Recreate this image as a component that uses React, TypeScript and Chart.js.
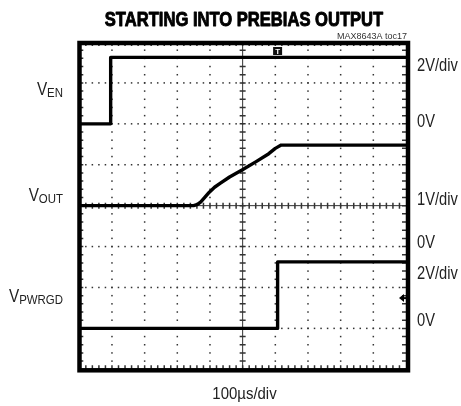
import React, { useEffect, useRef } from "react";
import { Chart, registerables } from "chart.js";

Chart.register(...registerables);

// ---- Text ----
const TITLE = "STARTING INTO PREBIAS OUTPUT";
const NOTE = "MAX8643A toc17";
const X_LABEL = "100µs/div";

// ---- Time axis (µs), 10 divisions of 100µs ----
const timeMinUs = 0;
const timeMaxUs = 1000;
const divisionsX = 10;
const divisionsY = 8;

// ---- Traces (time µs, volts) ----
const venTimeUs = [0, 96, 96, 1000];
const venVolts = [0, 0, 3.25, 3.25];

const voutTimeUs = [0, 350, 362, 372, 384, 398, 414, 432, 460, 498, 540, 580, 600, 618, 1000];
const voutVolts = [1.0, 1.0, 1.03, 1.09, 1.2, 1.33, 1.45, 1.55, 1.7, 1.87, 2.07, 2.27, 2.4, 2.48, 2.48];

const pgTimeUs = [0, 607, 607, 1000];
const pgVolts = [0, 0, 3.25, 3.25];

// ---- Channels ----
const channelSubs = ["EN", "OUT", "PWRGD"];
const channelOffsetsDiv = [6, 3, 1];
const channelVoltsPerDiv = [2, 1, 2];
const channelScaleLabels = ["2V/div", "1V/div", "2V/div"];
const zeroLabel = "0V";

const triggerTimeUs = 607;
const triggerLevelV = 1.48; // on PWRGD channel

function toPoints(t: number[], v: number[], ch: number) {
  return t.map((x, i) => ({ x, y: channelOffsetsDiv[ch] + v[i] / channelVoltsPerDiv[ch] }));
}

function condensedText(
  ctx: CanvasRenderingContext2D,
  text: string,
  x: number,
  y: number,
  font: string,
  sx: number,
  align: CanvasTextAlign,
  color: string,
  stroke = 0
) {
  ctx.save();
  ctx.translate(x, y);
  ctx.scale(sx, 1);
  ctx.font = font;
  ctx.textAlign = align;
  ctx.textBaseline = "alphabetic";
  ctx.fillStyle = color;
  ctx.fillText(text, 0, 0);
  if (stroke > 0) {
    ctx.strokeStyle = color;
    ctx.lineWidth = stroke;
    ctx.lineJoin = "round";
    ctx.strokeText(text, 0, 0);
  }
  ctx.restore();
}

const FONT = '"Liberation Sans", Arial, Helvetica, sans-serif';

const scopePlugin = {
  id: "scope",
  beforeDatasetsDraw(chart: any) {
    const ctx: CanvasRenderingContext2D = chart.ctx;
    const xs = chart.scales.x;
    const ys = chart.scales.y;
    const stepX = (timeMaxUs - timeMinUs) / divisionsX;
    ctx.save();
    ctx.fillStyle = "#333";
    // dotted grid
    for (let i = 1; i < divisionsX; i++) {
      if (i === divisionsX / 2) continue;
      const px = xs.getPixelForValue(timeMinUs + i * stepX);
      for (let j = 1; j < divisionsY * 5; j++) {
        const py = ys.getPixelForValue(j / 5);
        ctx.fillRect(px - 0.75, py - 0.75, 1.5, 1.5);
      }
    }
    for (let j = 1; j < divisionsY; j++) {
      if (j === divisionsY / 2) continue;
      const py = ys.getPixelForValue(j);
      for (let i = 1; i < divisionsX * 5; i++) {
        const px = xs.getPixelForValue(timeMinUs + (i * stepX) / 5);
        ctx.fillRect(px - 0.75, py - 0.75, 1.5, 1.5);
      }
    }
    // center lines with minor ticks
    const cx = xs.getPixelForValue(timeMinUs + (divisionsX / 2) * stepX);
    const cy = ys.getPixelForValue(divisionsY / 2);
    const left = chart.chartArea.left;
    const right = chart.chartArea.right;
    const top = chart.chartArea.top;
    const bottom = chart.chartArea.bottom;
    ctx.strokeStyle = "#333";
    ctx.lineWidth = 1;
    ctx.beginPath();
    ctx.moveTo(cx, top);
    ctx.lineTo(cx, bottom);
    ctx.moveTo(left, cy);
    ctx.lineTo(right, cy);
    ctx.stroke();
    ctx.lineWidth = 1.5;
    ctx.beginPath();
    for (let j = 1; j < divisionsY * 5; j++) {
      const py = ys.getPixelForValue(j / 5);
      ctx.moveTo(cx - 3, py);
      ctx.lineTo(cx + 3, py);
      ctx.moveTo(right, py);
      ctx.lineTo(right - 4, py);
      ctx.moveTo(left, py);
      ctx.lineTo(left + 4, py);
    }
    for (let i = 1; i < divisionsX * 5; i++) {
      const px = xs.getPixelForValue(timeMinUs + (i * stepX) / 5);
      ctx.moveTo(px, cy - 3);
      ctx.lineTo(px, cy + 3);
      ctx.moveTo(px, top);
      ctx.lineTo(px, top + 4);
      ctx.moveTo(px, bottom);
      ctx.lineTo(px, bottom - 4);
    }
    ctx.stroke();
    ctx.restore();
  },
  afterDraw(chart: any) {
    const ctx: CanvasRenderingContext2D = chart.ctx;
    const xs = chart.scales.x;
    const ys = chart.scales.y;
    const { left, right, top, bottom } = chart.chartArea;
    ctx.save();
    // frame
    ctx.strokeStyle = "#000";
    ctx.lineWidth = 4.5;
    ctx.strokeRect(left + 0.2, top + 1, right - left + 1.8, bottom - top);

    // trigger marker T
    const tx = xs.getPixelForValue(triggerTimeUs);
    ctx.fillStyle = "#111";
    ctx.fillRect(tx - 4.5, top + 5, 9, 8);
    ctx.fillStyle = "#fff";
    ctx.font = "bold 8px " + FONT;
    ctx.textAlign = "center";
    ctx.textBaseline = "middle";
    ctx.fillText("T", tx, top + 9.5);

    // trigger level arrow
    const ay = ys.getPixelForValue(channelOffsetsDiv[2] + triggerLevelV / channelVoltsPerDiv[2]);
    ctx.fillStyle = "#000";
    ctx.beginPath();
    ctx.moveTo(right - 7, ay);
    ctx.lineTo(right - 2, ay - 4);
    ctx.lineTo(right - 2, ay + 4);
    ctx.closePath();
    ctx.fill();
    ctx.fillRect(right - 3, ay - 1, 4, 2);

    // title & note
    condensedText(ctx, TITLE, 244, 26, "bold 19.5px " + FONT, 0.85, "center", "#000", 0.9);
    condensedText(ctx, NOTE, 407, 39, "9px " + FONT, 1.0, "right", "#333");
    condensedText(ctx, X_LABEL, 244.5, 399, "17px " + FONT, 0.88, "center", "#222");

    // left channel labels
    const leftY = [95, 201, 302];
    for (let c = 0; c < 3; c++) {
      ctx.save();
      ctx.font = "13px " + FONT;
      const subW = ctx.measureText(channelSubs[c]).width * 0.88;
      ctx.restore();
      condensedText(ctx, channelSubs[c], 63, leftY[c] + 2, "13px " + FONT, 0.88, "right", "#222");
      condensedText(ctx, "V", 63 - subW, leftY[c], "18px " + FONT, 0.85, "right", "#222");
    }

    // right scale labels
    const scaleY = [71, 205, 279];
    const zeroY = [127, 248, 326];
    for (let c = 0; c < 3; c++) {
      condensedText(ctx, channelScaleLabels[c], 417, scaleY[c], "17.5px " + FONT, 0.84, "left", "#222");
      condensedText(ctx, zeroLabel, 417, zeroY[c], "17.5px " + FONT, 0.84, "left", "#222");
    }
    ctx.restore();
  },
};

export default function App() {
  const ref = useRef<HTMLCanvasElement | null>(null);
  useEffect(() => {
    if (!ref.current) return;
    const traceStyle = {
      borderColor: "#000",
      borderWidth: 3.4,
      pointRadius: 0,
      tension: 0,
      fill: false,
      showLine: true,
      borderJoinStyle: "round",
    };
    const chart = new Chart(ref.current, {
      type: "scatter",
      data: {
        datasets: [
          { label: "VEN", data: toPoints(venTimeUs, venVolts, 0), ...traceStyle },
          { label: "VOUT", data: toPoints(voutTimeUs, voutVolts, 1), ...traceStyle },
          { label: "VPWRGD", data: toPoints(pgTimeUs, pgVolts, 2), ...traceStyle },
        ],
      },
      options: {
        animation: false,
        responsive: false,
        maintainAspectRatio: false,
        layout: { padding: { left: 79.3, right: 55, top: 42, bottom: 36.7 } },
        plugins: { legend: { display: false }, tooltip: { enabled: false }, title: { display: false } },
        scales: {
          x: { type: "linear", min: timeMinUs, max: timeMaxUs, display: false },
          y: { type: "linear", min: 0, max: divisionsY, display: false },
        },
        events: [],
      },
      plugins: [scopePlugin],
    } as any);
    return () => chart.destroy();
  }, []);
  return (
    <div style={{ position: "fixed", left: 0, top: 0, width: 461, height: 406, background: "#fff" }}>
      <canvas ref={ref} width={461} height={406} style={{ display: "block" }} />
    </div>
  );
}
